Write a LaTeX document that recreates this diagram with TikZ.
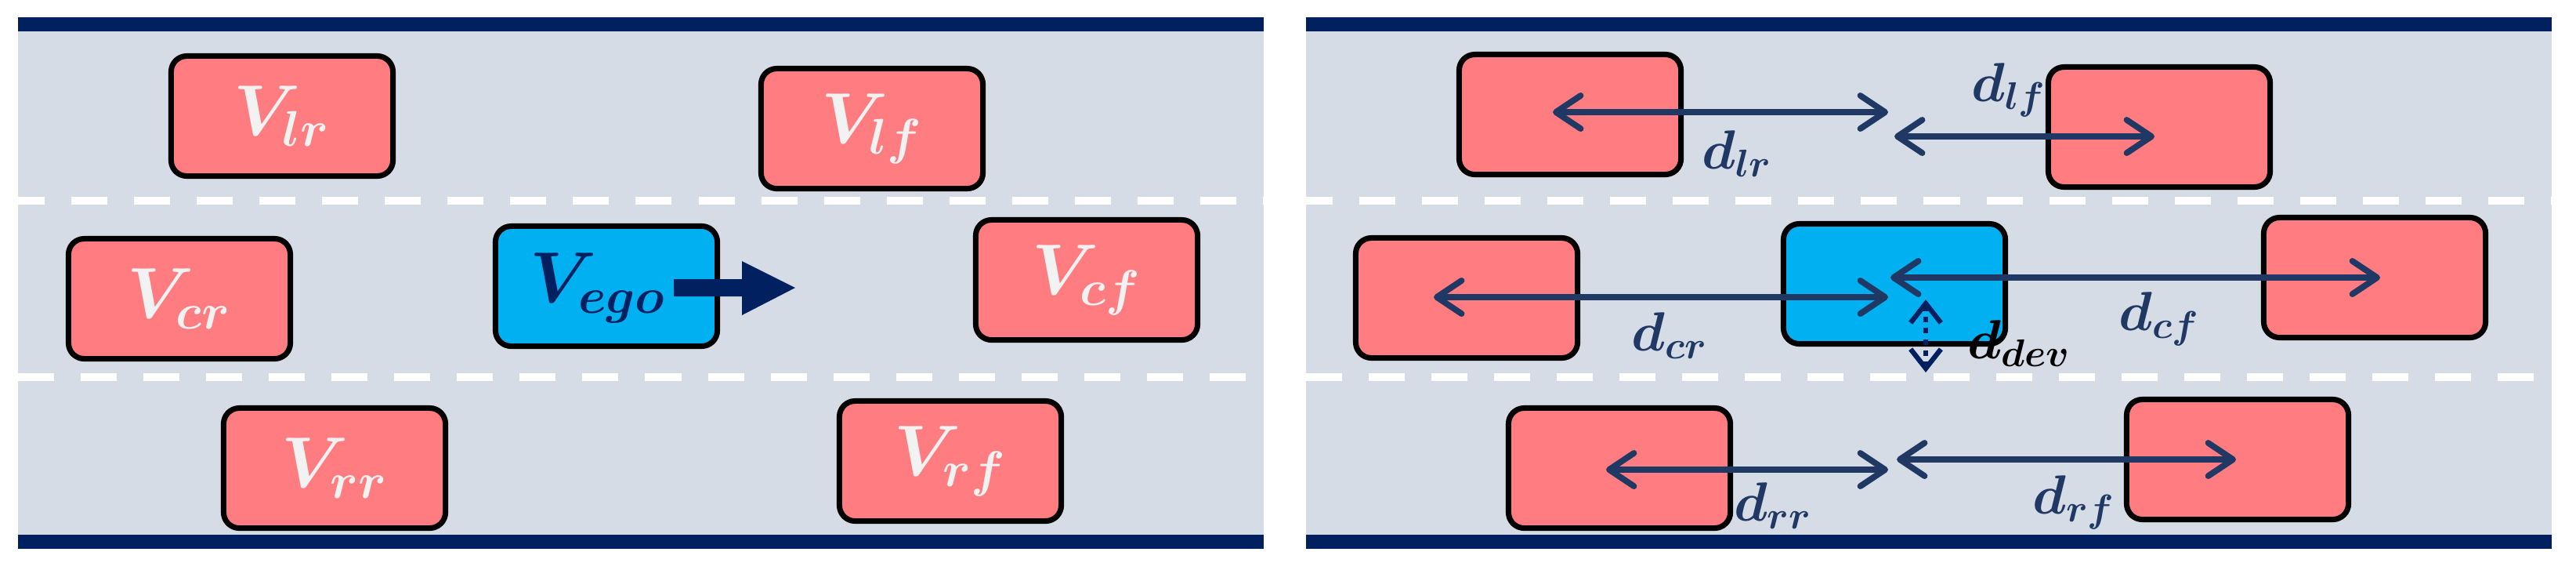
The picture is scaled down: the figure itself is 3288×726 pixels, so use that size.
\documentclass[tikz,border=0pt]{standalone}
\usepackage{fix-cm}
\usepackage{amsmath}
\usepackage{bm}
\usetikzlibrary{arrows.meta,calc}
\definecolor{roadbg}{HTML}{D6DCE5}
\definecolor{navy}{HTML}{002060}
\definecolor{carred}{HTML}{FF7C80}
\definecolor{egoblue}{HTML}{00B0F0}
\definecolor{distblue}{HTML}{203864}
\definecolor{txtwhite}{HTML}{F2F2F2}
\begin{document}
\begin{tikzpicture}[x=0.01cm,y=-0.01cm,
  car/.style={draw=black,line width=2pt,rounded corners=0.2cm,fill=carred,
    minimum width=2.83cm,minimum height=1.53cm,inner sep=0pt,
    text=txtwhite,font=\fontsize{26}{30}\selectfont},
  egocar/.style={car,fill=egoblue,text=navy},
  vtext/.style={inner sep=0pt,font=\fontsize{26}{30}\selectfont},
  distarrow/.style={draw=distblue,line width=2.2pt,line cap=round,
    {Straight Barb[length=9pt,width=12pt,round]}-{Straight Barb[length=9pt,width=12pt,round]}},
  devarrow/.style={draw=navy,line width=1.8pt,dash pattern=on 2pt off 2pt,
    {Straight Barb[length=7pt,width=11pt]}-{Straight Barb[length=7pt,width=11pt]}},
  dlabel/.style={inner sep=0pt,text=distblue,font=\fontsize{20}{24}\selectfont},
  lane/.style={draw=white,line width=0.1cm,dash pattern=on 0.46cm off 0.34cm}]
\useasboundingbox (0,0) rectangle (3288,726);
% roads
\foreach \ox in {0,1644}{
  \begin{scope}[shift={(\ox,0)}]
    \fill[roadbg] (23,40) rectangle (1613,682);
    \fill[navy] (23,22) rectangle (1613,40);
    \fill[navy] (23,682) rectangle (1613,700);
    \draw[lane,dash phase=0.12cm] (23,256) -- (1613,256);
    \draw[lane] (23,481) -- (1613,481);
  \end{scope}
}
% left panel
\node[car] (lrL) at (360,148) {$\bm{V_{lr}}$};
\node[car] (lfL) at (1113,164) {$\bm{V_{lf}}$};
\node[car] (crL) at (229,381) {$\bm{V_{cr}}$};
\node[egocar] (egoL) at (774,365) {};
\node[car] (cfL) at (1387,357) {$\bm{V_{cf}}$};
\node[car] (rrL) at (427,597) {$\bm{V_{rr}}$};
\node[car] (rfL) at (1213,588) {$\bm{V_{rf}}$};
\node[vtext,text=navy] (egoLtext) at ($(egoL.center)+(-11,2)$) {$\bm{V_{ego}}$};
\fill[navy] ($(egoL.center)+(86,-9)$) -- ++(87,0) -- ++(0,-23) -- ++(68,34)
  -- ++(-68,35) -- ++(0,-24) -- ++(-87,0) -- cycle;
% right panel
\node[car] (lrR) at (2004,146) {};
\node[car] (lfR) at (2756,162) {};
\node[car] (crR) at (1872,380) {};
\node[egocar] (egoR) at (2418,362) {};
\node[car] (cfR) at (3031,354) {};
\node[car] (rrR) at (2067,597) {};
\node[car] (rfR) at (2856,586) {};
\draw[distarrow] ($(lrR.center)+(-22,-3)$) -- ($(lrR.center -| egoR.center)+(-8,-3)$);
\draw[distarrow] ($(lfR.center -| egoR.center)+(0,12)$) -- ($(lfR.center)+(-6,12)$);
\draw[distarrow] ($(crR.center)+(-42,-1)$) -- ($(crR.center -| egoR.center)+(-8,-1)$);
\draw[distarrow] ($(cfR.center -| egoR.center)+(-5,0)$) -- ($(cfR.center)+(7,0)$);
\draw[distarrow] ($(rrR.center)+(-17,2)$) -- ($(rrR.center -| egoR.center)+(-8,2)$);
\draw[distarrow] ($(rfR.center -| egoR.center)+(3,0)$) -- ($(rfR.center)+(-2,0)$);
\draw[devarrow] ($(egoR.center)+(40,20)$) -- ($(egoR.center)+(40,113)$);
\node[dlabel] (dlr) at (2217,196) {$\bm{d_{lr}}$};
\node[dlabel] (dlf) at (2564,115) {$\bm{d_{lf}}$};
\node[dlabel] (dcr) at (2131,428) {$\bm{d_{cr}}$};
\node[dlabel] (dcf) at (2756,407) {$\bm{d_{cf}}$};
\node[dlabel,text=black] (ddev) at (2577,438) {$\bm{d_{dev}}$};
\node[dlabel] (drr) at (2263,645) {$\bm{d_{rr}}$};
\node[dlabel] (drf) at (2647,641) {$\bm{d_{rf}}$};
\end{tikzpicture}
\end{document}
